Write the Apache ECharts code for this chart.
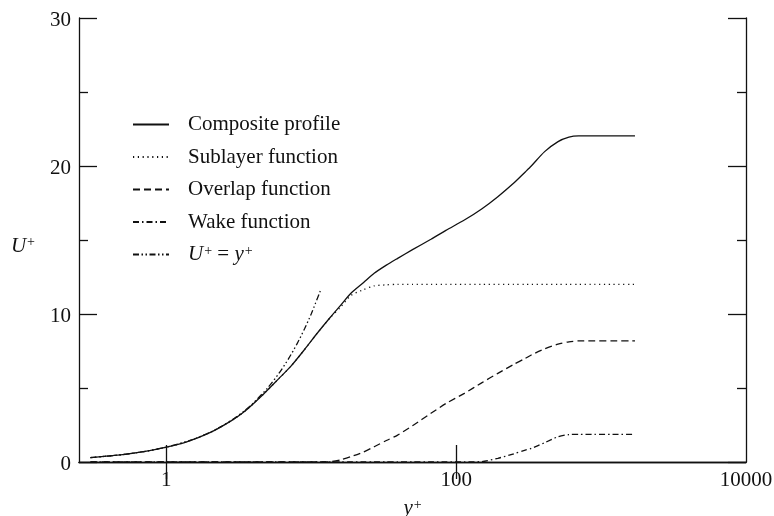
<!DOCTYPE html>
<html>
<head>
<meta charset="utf-8">
<script src="https://cdn.jsdelivr.net/npm/echarts@6/dist/echarts.min.js"></script>
<style>
  html, body { margin: 0; padding: 0; background: #fff; }
  #chart { width: 774px; height: 516px; }
</style>
</head>
<body>
<div id="chart"></div>
<script>
// Wall distance y+ at which the profile components are sampled
const yPlus = [0.3, 0.5, 0.75, 1, 1.4, 2, 2.8, 3.5, 4.7, 6, 7.2, 9, 11, 13.6, 16, 18.8,
  23, 27.2, 33, 39.5, 50, 67, 85, 114, 150, 194, 250, 300, 330, 408, 505, 600, 700,
  900, 1200, 1714];

// U+ of each component at those y+ values
const composite = [0.3, 0.5, 0.75, 1.0, 1.38, 1.98, 2.78, 3.45, 4.6, 5.65, 6.44, 7.6, 8.7,
  9.8, 10.6, 11.4, 12.13, 12.75, 13.3, 13.76, 14.35, 15.05, 15.65, 16.35, 17.1, 17.93,
  18.85, 19.6, 20.0, 20.97, 21.65, 21.95, 22.03, 22.03, 22.03, 22.03];
const sublayer = [0.3, 0.5, 0.75, 1.0, 1.38, 1.98, 2.78, 3.45, 4.6, 5.65, 6.44, 7.6, 8.7,
  9.78, 10.48, 11.25, 11.65, 11.9, 11.97, 12.0, 12.0, 12.0, 12.0, 12.0, 12.0, 12.0,
  12.0, 12.0, 12.0, 12.0, 12.0, 12.0, 12.0, 12.0, 12.0, 12.0];
const overlap = [0, 0, 0, 0, 0, 0, 0, 0, 0, 0, 0, 0, 0,
  0.02, 0.15, 0.36, 0.68, 1.03, 1.45, 1.82, 2.45, 3.29, 3.95, 4.64, 5.35, 5.99,
  6.6, 7.0, 7.23, 7.65, 7.97, 8.12, 8.18, 8.18, 8.18, 8.18];
const wake = [0, 0, 0, 0, 0, 0, 0, 0, 0, 0, 0, 0, 0, 0, 0, 0, 0, 0, 0, 0, 0, 0, 0, 0,
  0.03, 0.25, 0.55, 0.8, 0.92, 1.3, 1.71, 1.85, 1.87, 1.87, 1.87, 1.87];

// Linear sublayer law U+ = y+
const lawYPlus = [0.3, 0.5, 0.75, 1, 1.5, 2, 2.5, 3, 3.5, 4, 5, 6, 7, 8, 9, 10, 11.6];
const lawU = [0.3, 0.5, 0.75, 1, 1.5, 2, 2.5, 3, 3.5, 4, 5, 6, 7, 8, 9, 10, 11.6];

// Axis tick positions and labels
const xTicks = [1, 100];
const xLabels = [1, 100, 10000];
const yTicks = [0, 10, 20, 30];

const seriesNames = ['Composite profile', 'Sublayer function', 'Overlap function',
  'Wake function', 'U+ = y+'];

const ink = '#111';
const serif = 'Liberation Serif, Times New Roman, serif';

function pairs(xs, ys) {
  return xs.map((x, i) => [x, ys[i]]);
}

function lineSeries(name, data, dash) {
  return {
    name: name,
    type: 'line',
    data: data,
    symbol: 'none',
    showSymbol: false,
    smooth: 0.25,
    silent: true,
    lineStyle: { color: ink, width: 1.3, type: dash },
    itemStyle: { color: ink }
  };
}

const richMath = {
  i: { fontFamily: serif, fontStyle: 'italic', fontSize: 21, color: ink },
  r: { fontFamily: serif, fontSize: 21, color: ink },
  s: { fontFamily: serif, fontSize: 14, color: ink, verticalAlign: 'top', padding: [0, 0, 0, 1] }
};

const chart = echarts.init(document.getElementById('chart'), null, { renderer: 'canvas' });

const frameLine = { show: true, lineStyle: { color: ink, width: 1.3 } };
const plainNumber = function (v) { return String(v); };

chart.setOption({
  animation: false,
  backgroundColor: '#fff',
  grid: { left: 79, right: 28, top: 18, bottom: 54, containLabel: false, outerBoundsMode: 'none' },
  legend: {
    orient: 'vertical',
    left: 127,
    top: 109,
    itemWidth: 36,
    itemHeight: 14,
    itemGap: 11.5,
    data: seriesNames,
    itemStyle: { opacity: 0 },
    textStyle: {
      fontFamily: serif, fontSize: 21, color: ink, lineHeight: 20,
      padding: [0, 0, 0, 14],
      rich: richMath
    },
    formatter: function (name) {
      if (name === 'U+ = y+') {
        return '{i|U}{s|+}{r| = }{i|y}{s|+}';
      }
      return name;
    }
  },
  xAxis: [{
    type: 'log',
    min: 0.25,
    max: 10000,
    position: 'bottom',
    name: '{i|y}{s|+}',
    nameLocation: 'middle',
    nameGap: 36,
    nameTextStyle: { rich: richMath },
    axisLine: frameLine,
    axisTick: { show: true, inside: true, length: 17, customValues: xTicks,
      lineStyle: { color: ink, width: 1.3 } },
    minorTick: { show: false },
    axisLabel: { customValues: xLabels, formatter: plainNumber,
      fontFamily: serif, fontSize: 21, color: ink, margin: 8 },
    splitLine: { show: false }
  }, {
    type: 'log',
    min: 0.25,
    max: 10000,
    position: 'top',
    axisLine: frameLine,
    axisTick: { show: true, inside: true, length: 17, customValues: xTicks,
      lineStyle: { color: ink, width: 1.3 } },
    axisLabel: { show: false },
    splitLine: { show: false }
  }],
  yAxis: [{
    type: 'value',
    min: 0,
    max: 30,
    interval: 10,
    position: 'left',
    name: '{i|U}{s|+}',
    nameLocation: 'middle',
    nameRotate: 0,
    nameGap: 44,
    nameTextStyle: { rich: richMath, padding: [12, 0, 0, 0] },
    axisLine: frameLine,
    axisTick: { show: true, inside: true, length: 18, lineStyle: { color: ink, width: 1.3 } },
    minorTick: { show: true, splitNumber: 2, length: 9, lineStyle: { color: ink, width: 1.3 } },
    axisLabel: {
      customValues: yTicks, margin: 8,
      formatter: function (v) { return '{n|' + v + '}'; },
      rich: { n: { fontFamily: serif, fontSize: 21, color: ink, padding: [5, 0, 0, 0] } }
    },
    splitLine: { show: false },
    minorSplitLine: { show: false }
  }, {
    type: 'value',
    min: 0,
    max: 30,
    interval: 10,
    position: 'right',
    axisLine: frameLine,
    axisTick: { show: true, inside: true, length: 18, lineStyle: { color: ink, width: 1.3 } },
    minorTick: { show: true, splitNumber: 2, length: 9, lineStyle: { color: ink, width: 1.3 } },
    axisLabel: { show: false },
    splitLine: { show: false }
  }],
  series: [
    lineSeries(seriesNames[0], pairs(yPlus, composite), 'solid'),
    lineSeries(seriesNames[1], pairs(yPlus, sublayer), [1.2, 3.6]),
    lineSeries(seriesNames[2], pairs(yPlus, overlap), [7, 4]),
    lineSeries(seriesNames[3], pairs(yPlus, wake), [6, 3, 1.5, 3]),
    lineSeries(seriesNames[4], pairs(lawYPlus, lawU), [6, 2.5, 1.5, 2.5, 1.5, 2.5])
  ]
});
</script>
</body>
</html>
